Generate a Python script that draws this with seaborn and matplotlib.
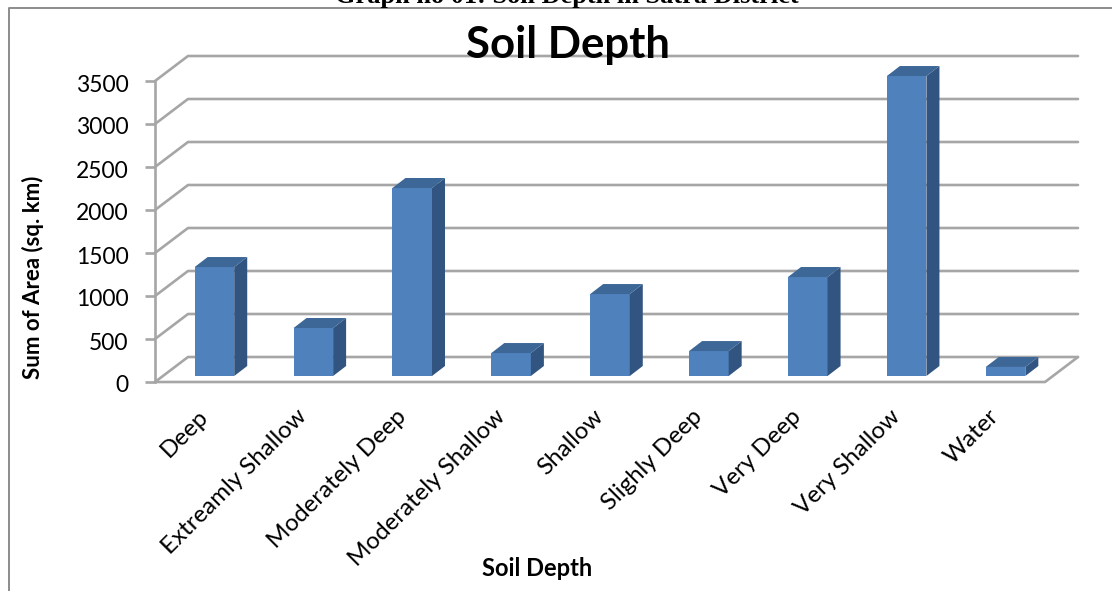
import matplotlib
matplotlib.use("Agg")
import matplotlib.pyplot as plt
import pandas as pd
import seaborn as sns
from matplotlib.patches import Polygon
from matplotlib.lines import Line2D
from matplotlib.transforms import ScaledTranslation

categories = ["Deep", "Extreamly Shallow", "Moderately Deep", "Moderately Shallow",
              "Shallow", "Slighly Deep", "Very Deep", "Very Shallow", "Water"]
area = [1267, 558, 2186, 267, 953, 290, 1151, 3488, 105]
y_ticks = [0, 500, 1000, 1500, 2000, 2500, 3000, 3500]

W, H = 1112, 591
sns.set_theme(style="white")
plt.rcParams["font.family"] = ["Lato", "DejaVu Sans"]

BLUE = "#4f81bd"
TOP = "#3d6796"
SIDE = "#325480"
GRID = "#a6a6a6"

fig = plt.figure(figsize=(W / 100, H / 100), dpi=100)

# front plane of the fake 3d box, in pixels of the picture
left, right, y0, y3500 = 155, 1045, 382, 81
ax = fig.add_axes([left / W, 1 - y0 / H, (right - left) / W, (y0 - y3500) / H])

df = pd.DataFrame({"Soil Depth": categories, "Area": area})
sns.barplot(data=df, x="Soil Depth", y="Area", color=BLUE, saturation=1, width=0.4,
            ax=ax, zorder=3, clip_on=False, linewidth=0)
ax.set_ylim(0, 3500)
ax.set_xlim(-0.5, 8.5)

# data units per pixel
ux = 9 / (right - left)
uy = 3500 / (y0 - y3500)
x0, x1 = ax.get_xlim()

# back wall and floor
wall_dx, wall_dy = 33 * ux, 25 * uy
for t in y_ticks:
    ax.plot([x0, x0 + wall_dx, x1 + wall_dx], [t, t + wall_dy, t + wall_dy],
            color=GRID, lw=1.9, clip_on=False, zorder=1)
ax.plot([x0, x1, x1 + wall_dx], [0, 0, wall_dy], color=GRID, lw=1.9, clip_on=False, zorder=1)

# bars stand halfway into the floor, with a top and a side face
bar_dx, bar_dy = 10 * ux, 6 * uy
face_dx, face_dy = 13 * ux, 10 * uy
for bar, val in zip(list(ax.patches), area):
    bar.set_x(bar.get_x() + bar_dx)
    bar.set_y(bar_dy)
    xa = bar.get_x()
    xb = xa + bar.get_width()
    ya, yb = bar_dy, bar_dy + val
    ax.add_patch(Polygon([(xb, ya), (xb + face_dx, ya + face_dy), (xb + face_dx, yb + face_dy), (xb, yb)],
                         facecolor=SIDE, edgecolor="none", clip_on=False, zorder=3))
    ax.add_patch(Polygon([(xa, yb), (xa + face_dx, yb + face_dy), (xb + face_dx, yb + face_dy), (xb, yb)],
                         facecolor=TOP, edgecolor="none", clip_on=False, zorder=3))

for name in ["top", "right", "bottom"]:
    ax.spines[name].set_visible(False)
ax.spines["left"].set_color(GRID)
ax.spines["left"].set_linewidth(1.9)

ax.set_yticks(y_ticks)
ax.tick_params(axis="y", left=True, length=7, width=1.9, color=GRID, labelsize=16.5,
               labelcolor="black", pad=12)
ax.tick_params(axis="x", bottom=False, labelsize=17.4, labelcolor="black", pad=11)
ax.set_xticks(range(len(categories)))
ax.set_xticklabels(categories, rotation=45, ha="right", rotation_mode="anchor")
# nudge the slanted labels a few pixels left
nudge = ScaledTranslation(-7 / 100, 0, fig.dpi_scale_trans)
for lab in ax.get_xticklabels():
    lab.set_transform(lab.get_transform() + nudge)
nudge_y = ScaledTranslation(0, -2 / 100, fig.dpi_scale_trans)
for lab in ax.get_yticklabels():
    lab.set_transform(lab.get_transform() + nudge_y)

ax.set_xlabel("")
ax.set_ylabel("")

fig.text(33 / W, 1 - 277 / H, "Sum of Area (sq. km)", rotation=90, fontsize=16, fontweight="bold",
         ha="center", va="center", color="black")
fig.text(537 / W, 1 - 568 / H, "Soil Depth", fontsize=17, fontweight="bold",
         ha="center", va="center", color="black")
fig.text(568 / W, 1 - 45 / H, "Soil Depth", fontsize=31.5, fontweight="bold",
         ha="center", va="center", color="black", zorder=5)
fig.text(567 / W, 1 - 3 / H, "Graph no 01: Soil Depth in Satra District", fontsize=19, fontweight="bold",
         family="Liberation Serif", ha="center", va="baseline", color="black")

# chart frame: only the top and left edges are inside the picture
frame_x, frame_y = 9 / W, 1 - 8 / H
fig.add_artist(Line2D([frame_x, frame_x, 1], [0, frame_y, frame_y], transform=fig.transFigure,
                      color="#8c8c8c", lw=1.4))

fig.savefig("out.png", dpi=100)
